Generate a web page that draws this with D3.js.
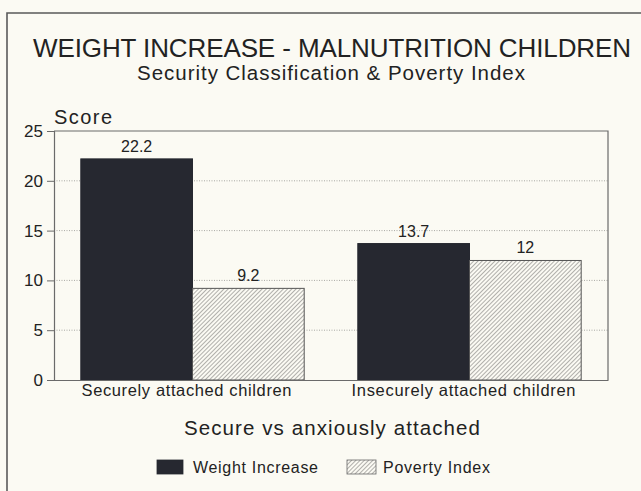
<!DOCTYPE html>
<html>
<head>
<meta charset="utf-8">
<script src="https://cdn.jsdelivr.net/npm/d3@7"></script>
<style>
  html, body { margin: 0; padding: 0; background: #fbfaf3; }
  svg { display: block; }
  text { font-family: "Liberation Sans", Arial, Helvetica, sans-serif; fill: #222; }
</style>
</head>
<body>
<svg id="chart" width="641" height="491"></svg>
<script>
const categories = ["Securely attached children", "Insecurely attached children"];
const seriesNames = ["Weight Increase", "Poverty Index"];
const weightIncrease = [22.2, 13.7];
const povertyIndex = [9.2, 12];
const yTicks = [0, 5, 10, 15, 20, 25];

const W = 641, H = 491;
const svg = d3.select("#chart");

const defs = svg.append("defs");
const pat = defs.append("pattern")
  .attr("id", "hatch")
  .attr("patternUnits", "userSpaceOnUse")
  .attr("width", 3).attr("height", 3)
  .attr("patternTransform", "rotate(45)");
pat.append("rect").attr("width", 3).attr("height", 3).attr("fill", "#fbfaf3");
pat.append("line").attr("x1", 0).attr("y1", 0).attr("x2", 0).attr("y2", 3)
  .attr("stroke", "#555").attr("stroke-width", 0.9);

// outer frame (top and left edges visible)
svg.append("path")
  .attr("d", `M7,${H} L7,13 L${W},13`)
  .attr("fill", "none").attr("stroke", "#5a5a5a").attr("stroke-width", 1.6);

const margin = { left: 54, right: 608, top: 131, bottom: 380 };

const y = d3.scaleLinear().domain([0, 25]).range([margin.bottom, margin.top]);
const x0 = d3.scaleBand().domain(categories).range([margin.left, margin.right]).padding(0);
const x1 = d3.scaleBand().domain(seriesNames).range([0, x0.bandwidth()]).paddingInner(0).paddingOuter(0.24);

// titles
svg.append("text").attr("x", 332).attr("y", 57).attr("text-anchor", "middle")
  .attr("font-size", 26).attr("textLength", 598).attr("lengthAdjust", "spacing")
  .text("WEIGHT INCREASE - MALNUTRITION CHILDREN");
svg.append("text").attr("x", 331).attr("y", 80).attr("text-anchor", "middle")
  .attr("font-size", 20.5).attr("textLength", 388).attr("lengthAdjust", "spacing")
  .text("Security Classification & Poverty Index");
svg.append("text").attr("x", 54).attr("y", 124)
  .attr("font-size", 20).attr("textLength", 58).attr("lengthAdjust", "spacing")
  .text("Score");

// gridlines
svg.append("g").selectAll("line").data(yTicks.filter(d => d > 0 && d < 25)).join("line")
  .attr("x1", margin.left).attr("x2", margin.right)
  .attr("y1", d => y(d)).attr("y2", d => y(d))
  .attr("stroke", "#a8a8a4").attr("stroke-width", 1).attr("stroke-dasharray", "1,1.5");

// plot frame (top and right)
svg.append("path")
  .attr("d", `M${margin.left},${margin.top} L${margin.right},${margin.top} L${margin.right},${margin.bottom}`)
  .attr("fill", "none").attr("stroke", "#6a6a6a").attr("stroke-width", 1.2);

// bars
const data = categories.map((c, i) => ({ cat: c, vals: [
  { s: seriesNames[0], v: weightIncrease[i] },
  { s: seriesNames[1], v: povertyIndex[i] }
]}));

const groups = svg.append("g").selectAll("g").data(data).join("g")
  .attr("transform", d => `translate(${x0(d.cat)},0)`);

groups.selectAll("rect").data(d => d.vals).join("rect")
  .attr("x", d => x1(d.s))
  .attr("y", d => y(d.v))
  .attr("width", x1.bandwidth())
  .attr("height", d => y(0) - y(d.v))
  .attr("fill", d => d.s === seriesNames[0] ? "#262830" : "url(#hatch)")
  .attr("stroke", d => d.s === seriesNames[0] ? "#262830" : "#555")
  .attr("stroke-width", 1);

groups.selectAll("text.val").data(d => d.vals).join("text")
  .attr("class", "val")
  .attr("x", d => x1(d.s) + x1.bandwidth() / 2)
  .attr("y", d => y(d.v) - 7)
  .attr("text-anchor", "middle")
  .attr("font-size", 16)
  .text(d => d.v);

// y axis
const yAxis = d3.axisLeft(y).tickValues(yTicks).tickSize(7).tickPadding(4).tickFormat(d3.format("d"));
const yg = svg.append("g").attr("transform", `translate(${margin.left},0)`).call(yAxis);
yg.select(".domain").attr("stroke", "#6a6a6a").attr("stroke-width", 1.2);
yg.selectAll(".tick line").attr("stroke", "#6a6a6a");
yg.selectAll(".tick text").attr("font-size", 17).attr("fill", "#222")
  .attr("font-family", "'Liberation Sans', Arial, sans-serif");

// x axis
const xAxis = d3.axisBottom(x0).tickSize(0).tickPadding(4);
const xg = svg.append("g").attr("transform", `translate(0,${margin.bottom})`).call(xAxis);
xg.select(".domain").attr("stroke", "#6a6a6a").attr("stroke-width", 1.2);
xg.selectAll(".tick text").attr("font-size", 16.5).attr("fill", "#222")
  .attr("font-family", "'Liberation Sans', Arial, sans-serif")
  .attr("dx", -6)
  .attr("lengthAdjust", "spacing")
  .attr("textLength", (d, i) => i === 0 ? 210 : 224);

// x axis title
svg.append("text").attr("x", 332).attr("y", 435).attr("text-anchor", "middle")
  .attr("font-size", 20.5).attr("textLength", 296).attr("lengthAdjust", "spacing")
  .text("Secure vs anxiously attached");

// legend
const legendX = [157, 347];
const legendTextW = [125, 107];
const lg = svg.append("g").selectAll("g").data(seriesNames).join("g")
  .attr("transform", (d, i) => `translate(${legendX[i]},460)`);
lg.append("rect").attr("width", (d, i) => i === 0 ? 26 : 29).attr("height", 14)
  .attr("fill", (d, i) => i === 0 ? "#262830" : "url(#hatch)")
  .attr("stroke", (d, i) => i === 0 ? "#262830" : "#666").attr("stroke-width", 0.8);
lg.append("text").attr("x", 36).attr("y", 13)
  .attr("font-size", 16).attr("lengthAdjust", "spacing")
  .attr("textLength", (d, i) => legendTextW[i])
  .text(d => d);
</script>
</body>
</html>
